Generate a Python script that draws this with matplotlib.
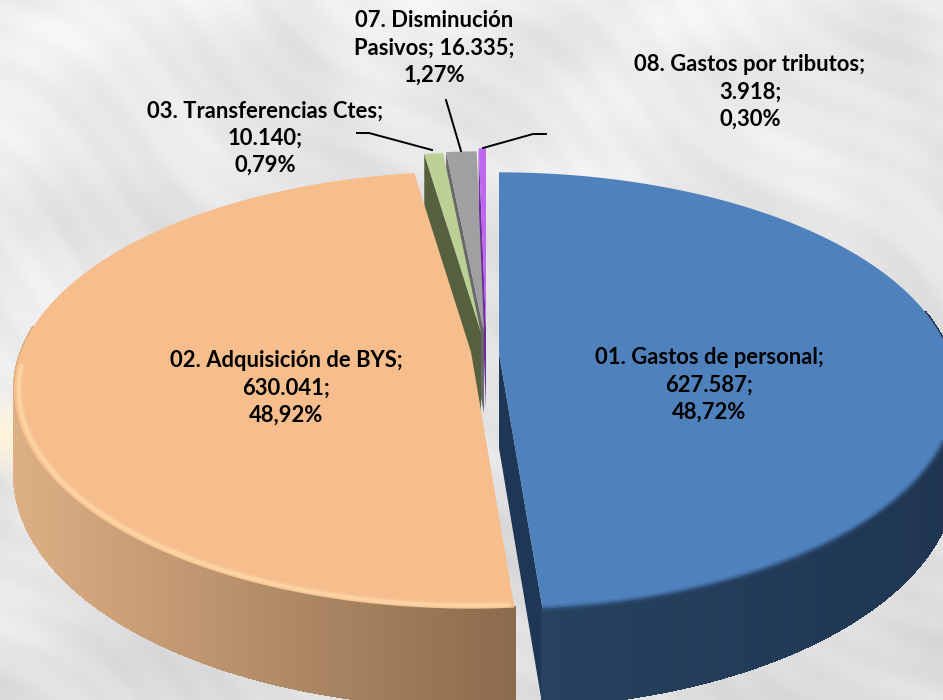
import numpy as np
import matplotlib.pyplot as plt
from matplotlib.collections import PolyCollection
from matplotlib.patches import Polygon

# ── Data ──────────────────────────────────────────────────────────────────────
names = ['01. Gastos de personal;', '02. Adquisición de BYS;', '03. Transferencias Ctes;',
         '07. Disminución\nPasivos; 16.335;', '08. Gastos por tributos;']
values = [627587, 630041, 10140, 16335, 3918]
value_labels = ['627.587;', '630.041;', '10.140;', '', '3.918;']
pct_labels = ['48,72%', '48,92%', '0,79%', '1,27%', '0,30%']

# ── Pie geometry (pixels) ─────────────────────────────────────────────────────
RX, RY, K, H = 450, 212, 0.1735, 81
apex = [(499, 353), (471, 352), (481, 333), (484, 332), (486, 329)]
top_col = ['#4F81BD', '#F6BE8D', '#BCD096', '#A0A0A2', '#BF66F0']
cut_col = ['#1E3757', '#8C6C4E', '#55603E', '#68686A', '#6A2E96']


def project(ang, c, r=1.0):
    # clockwise angle from the back of the pie, with a little perspective
    X, Y = r * np.sin(ang), r * np.cos(ang)
    w = 1 + K * Y
    return c[0] + RX * X / w, c[1] - RY * Y / w, H / w


def rim(a0, a1, c, n=160, r=1.0):
    return project(np.linspace(a0, a1, n), c, r)


def side_faces(a0, a1, c, c_left, c_right, z):
    x, y, h = rim(a0, a1, c, 240)
    quads = [[(x[i], y[i]), (x[i + 1], y[i + 1]), (x[i + 1], y[i + 1] + h[i + 1]), (x[i], y[i] + h[i])]
             for i in range(len(x) - 1)]
    t = np.clip((x[:-1] - x.min()) / max(x.max() - x.min(), 1), 0, 1)[:, None]
    cols = np.array(c_left) * (1 - t) + np.array(c_right) * t
    ax.add_collection(PolyCollection(quads, facecolors=cols, edgecolors=cols, linewidths=1.2,
                                     antialiaseds=False, zorder=z))


def hex_rgb(s):
    return [int(s[i:i + 2], 16) / 255 for i in (1, 3, 5)]


fig = plt.figure(figsize=(9.43, 7), dpi=100)
ax = fig.add_axes([0, 0, 1, 1])
ax.set_xlim(0, 943)
ax.set_ylim(700, 0)
ax.axis('off')

# ── Background, soft grey fur ─────────────────────────────────────────────────
yy, xx = np.mgrid[0:700, 0:943]
u = xx * 0.8 + yy * 0.6
v = yy * 0.8 - xx * 0.6
fur = (np.sin(v / 6 + 3.5 * np.sin(u / 60)) * 0.3 + np.sin(v / 17 + 3 * np.sin(u / 90)) * 0.35
       + np.sin(xx / 90 + 2 * np.sin(yy / 70)) * np.sin(yy / 80 + 2 * np.sin(xx / 100)) * 1.2)
grey = 0.925 + 0.028 * fur - 0.045 * (yy / 700)
bg = np.dstack([grey, grey, grey + 0.006])
glow = np.exp(-((yy - 435) / 32.0) ** 2 - (xx / 40.0) ** 2)[..., None]
bg = bg * (1 - glow) + np.array([1.0, 0.96, 0.86]) * glow
ax.imshow(np.clip(bg, 0, 1), extent=(0, 943, 700, 0), aspect='auto', zorder=0)

# ── Slices ────────────────────────────────────────────────────────────────────
edges = np.concatenate([[0], np.cumsum(values)]) / np.sum(values) * 2 * np.pi

# thin slices sit behind the two big ones, their cut faces first
for i in [4, 3, 2]:
    cx, cy = apex[i]
    x, y, h = rim(edges[i], edges[i] + 0.001, apex[i], 2)
    ax.add_patch(Polygon([(cx, cy), (x[0], y[0]), (x[0], y[0] + h[0]), (cx, cy + H)],
                         fc=cut_col[i], ec='none', zorder=2))
for i in [4, 3, 2]:
    x, y, h = rim(edges[i], edges[i + 1], apex[i], 20)
    ax.add_patch(Polygon(np.vstack([apex[i], np.column_stack([x, y])]), fc=top_col[i], ec='none', zorder=3))

# orange slice
a0, a1 = edges[1], edges[2]
side_faces(a0, 3 * np.pi / 2 + 0.12, apex[1], hex_rgb('#DDAF84'), hex_rgb('#8B6B4D'), 4)
x, y, h = rim(a0, a1, apex[1], 300)
ax.add_patch(Polygon(np.vstack([apex[1], np.column_stack([x, y])]), fc=top_col[1], ec='none', zorder=5))
# soft bevel along the front rim, just inside the edge
bx, by, _ = rim(a0, a1, apex[1], 300, r=0.99)
front = (by > 365) & (bx < 510)
for lw, alpha in [(5, 0.25), (2.5, 0.6)]:
    ax.plot(bx[front], by[front], color='#FFDDAE', lw=lw, alpha=alpha, zorder=6, solid_capstyle='round')

# blue slice
a0, a1 = edges[0], edges[1]
cx, cy = apex[0]
x, y, h = rim(a1, a1 + 0.001, apex[0], 2)
ax.add_patch(Polygon([(cx, cy), (x[0], y[0]), (x[0], y[0] + h[0]), (cx, cy + 95)],
                     fc=cut_col[0], ec='none', zorder=7))
side_faces(np.pi / 2 - 0.2, a1, apex[0], hex_rgb('#26425F'), hex_rgb('#1F3551'), 7)
x, y, h = rim(a0, a1, apex[0], 300)
ax.add_patch(Polygon(np.vstack([apex[0], np.column_stack([x, y])]), fc=top_col[0], ec='none', zorder=8))
front = y > 430
for lw, alpha in [(5, 0.25), (2.5, 0.5)]:
    ax.plot(x[front], y[front], color='#33557F', lw=lw, alpha=alpha, zorder=8.5, solid_capstyle='butt')

# ── Leader lines ──────────────────────────────────────────────────────────────
leader_x = [[357, 369, 432], [446, 461], [483, 533, 546]]
leader_y = [[133, 133, 150], [100, 151], [148, 134, 134]]
for lx, ly in zip(leader_x, leader_y):
    ax.plot(lx, ly, color='black', lw=1.4, zorder=9)

# ── Labels ────────────────────────────────────────────────────────────────────
label_xy = [(709, 385), (286, 388), (265, 138), (434, 48), (750, 92)]
for name, val, pct, (lx, ly) in zip(names, value_labels, pct_labels, label_xy):
    rows = [name, val, pct] if val else [name, pct]
    ax.text(lx, ly, '\n'.join(rows), ha='center', va='center', family='Lato',
            fontweight='bold', fontsize=15.8, linespacing=1.36, color='black', zorder=10)

fig.savefig('out.png', dpi=100)
